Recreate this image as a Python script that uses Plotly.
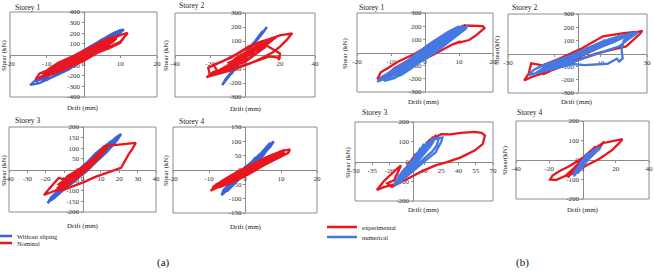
import plotly.graph_objects as go

# ---------------- data (drift mm, shear kN) ----------------
a1_without = [(0,0),(2,70),(-1,-50),(-3,-30),(4,110),(6,150),(3,30),(-2,-80),(-5,-130),(-6,-90),(2,70),(7,170),(8,140),(4,40),(-3,-100),(-8,-200),(-9,-160),(-4,-50),(3,100),(9,210),(10,190),(5,60),(-2,-80),(-10,-240),(-12,-230),(-6,-90),(1,60),(8,200),(10,230),(11,235),(9,170),(4,40),(-4,-140),(-12,-270),(-14.5,-287),(-13,-240),(-8,-130),(-2,-10),(5,140),(10,220),(8,150),(2,0),(-6,-170),(-11,-250),(-9,-180),(-3,-40),(3,90),(9,190),(6,100),(0,-40),(-7,-180),(-5,-90),(1,40),(7,160),(4,50),(-2,-70),(-4,-60),(0,10),(3,70),(1,-10),(-1,-30),(0,30),(-2,-20),(4,80),(-6,-120),(8,170),(-10,-210),(10,210),(-13,-260),(-11,-200),(-7,-120),(-3,-60),(1,20),(5,100),(9,180),(7,120),(3,40),(-1,-40),(-5,-110),(-9,-180)]
a1_nominal = [(0,0),(2,45),(-2,-50),(4,90),(-4,-90),(6,130),(-6,-130),(5,70),(0,-30),(-3,-30),(3,80),(7,150),(8,120),(2,-10),(-7,-160),(-9,-140),(-2,0),(5,120),(9,170),(12,205),(11,160),(10,110),(7,60),(4,20),(0,-50),(-5,-130),(-10,-200),(-13,-232),(-12,-180),(-10,-150),(-7,-80),(-3,-20),(2,60),(6,140),(10,185),(12,200),(10,120),(5,40),(0,-60),(-6,-150),(-11,-215),(-8,-120),(-4,-40),(1,40),(6,120),(9,150),(6,70),(1,-20),(-4,-110),(-8,-170),(-5,-70),(0,20),(4,100),(7,110),(3,20),(-2,-60),(-5,-90),(-1,0),(3,60),(1,10),(-1,-40),(2,20),(-1,-10),(1,20),(-3,-70),(3,50),(-7,-120),(7,130),(-9,-170),(9,160),(5,80),(0,-10),(-5,-100),(-11,-190),(-8,-150),(-3,-60),(3,40),(8,140)]

a2_without = [(0,0),(4,70),(-4,-60),(7,115),(-7,-110),(10,165),(-10,-160),(12.5,200),(11,170),(5,80),(-2,-30),(-9,-150),(-13,-215),(-11,-170),(-5,-80),(1,20),(6,100),(10,170),(8,130),(2,30),(-4,-70),(-8,-140),(-6,-95),(0,0),(5,90),(-3,-50),(3,40)]
a2_nominal = [(0,0),(5,40),(-5,-60),(8,70),(-8,-90),(12,90),(-12,-110),(15,110),(10,60),(0,-20),(-10,-100),(-18,-120),(-22,-160),(-15,-110),(-5,-40),(5,50),(15,120),(20,140),(27,155),(24,110),(20,60),(16,20),(10,-20),(3,-60),(-8,-110),(-20,-150),(-21,-90),(-12,-40),(0,40),(8,90),(18,130),(12,70),(20,10),(19,-35),(20,-20),(14,-10),(5,-50),(-5,-90),(-15,-130),(-18,-70),(-8,-20),(2,60),(10,100),(6,40),(-3,-30),(-10,-80),(-2,-20),(4,20),(-10,-60),(5,20),(12,60),(0,-50),(-12,-100),(-5,-20),(8,70),(3,-20),(-8,-80),(0,10),(6,50),(-4,-50)]

a3_without = [(0,0),(3,30),(-3,-30),(6,55),(-6,-55),(9,80),(-9,-80),(12,100),(-12,-100),(15,125),(18,150),(21,167),(19,140),(16,110),(13,80),(8,40),(2,-10),(-4,-50),(-10,-95),(-15,-125),(-19,-158),(-17,-130),(-13,-95),(-8,-50),(-2,0),(4,45),(10,95),(15,130),(17,140),(14,100),(9,55),(3,5),(-3,-45),(-9,-90),(-14,-115),(-11,-75),(-5,-25),(1,20),(7,75),(12,110),(10,75),(5,30),(-1,-20),(-7,-70),(-12,-110),(-16,-140),(-13,-105),(-6,-45),(0,10),(6,60),(11,100),(7,50),(1,0),(-4,-40),(-9,-75),(-5,-40),(0,5),(4,35),(-2,-15),(1,15),(-1,-20),(4,35),(-4,-45),(8,65),(-8,-75),(12,95),(-12,-105),(16,130),(-16,-135),(19,150),(14,105),(6,40),(-2,-25),(-10,-85),(-17,-145)]
a3_nominal = [(0,0),(3,25),(-3,-25),(6,45),(-6,-45),(9,65),(-9,-70),(12,90),(-12,-85),(14,110),(10,65),(4,10),(-3,-40),(-9,-75),(-15,-100),(-21,-120),(-17,-80),(-13,-40),(-8,-50),(-3,-20),(3,30),(8,70),(12,110),(20,117),(29,125),(27,95),(25,70),(21,8),(14,-12),(7,-35),(1,-58),(-5,-80),(-10,-95),(-14,-100),(-9,-55),(-4,-25),(2,20),(7,60),(11,95),(8,55),(2,0),(-4,-45),(-10,-85),(-13,-70),(-7,-30),(-1,5),(5,45),(10,80),(6,35),(0,-15),(-6,-55),(-11,-80),(-5,-25),(1,10),(5,40),(2,5),(-3,-30),(-2,-10),(2,10),(-6,-40),(6,40),(-10,-75),(10,75),(-14,-90),(12,95),(4,20),(-4,-35),(-12,-65),(-8,-30),(0,10),(8,60)]

a4_without = [(0,0),(1,15),(-1,-15),(2,30),(-2,-30),(3,45),(-3,-45),(4,55),(-4,-55),(5,70),(-5,-70),(6,80),(7,90),(8,100),(7,80),(5,55),(3,25),(1,0),(-2,-35),(-4,-60),(-6.5,-88),(-6,-70),(-4,-45),(-2,-20),(1,15),(3,40),(6,75),(7,85),(5,50),(2,10),(-1,-25),(-4,-55),(-6,-80),(-4,-40),(-1,-5),(2,30),(5,65),(3,30),(0,-10),(-3,-45),(-5,-60),(-2,-15),(1,20),(4,50),(2,20),(-1,-15),(0,10),(3,35),(-3,-40),(6,70),(-5,-75),(7,95),(4,45),(0,-15),(-5,-70)]
a4_nominal = [(0,0),(2,15),(-2,-20),(4,30),(-4,-35),(6,45),(-6,-50),(8,55),(-8,-60),(10,65),(7,35),(3,5),(-1,-20),(-5,-45),(-9.5,-72),(-8,-50),(-5,-30),(-1,-5),(3,25),(7,50),(10,65),(12.5,72),(12,60),(9,40),(5,15),(1,-15),(-3,-40),(-7,-60),(-9,-60),(-6,-35),(-2,-5),(2,20),(6,45),(9,60),(11,70),(8,40),(4,10),(0,-15),(-4,-40),(-7,-55),(-4,-25),(0,5),(4,30),(8,55),(5,25),(1,-5),(-3,-30),(-5,-40),(-1,-10),(2,10),(0,-5),(-1,-5),(3,20),(-3,-25),(6,40),(-7,-55),(9,55),(11,62),(6,30),(0,-10),(-6,-45),(-9,-65)]

b1_experimental = [(0,0),(4,70),(-4,-80),(8,140),(-8,-150),(10,170),(12,205),(17,200),(17.5,185),(15,130),(13,95),(10,75),(10.5,85),(8,60),(3,-10),(-4,-100),(-10,-170),(-14,-200),(-13,-150),(-11,-120),(-8,-70),(-3,-10),(3,80),(9,180),(12,210),(8,130),(2,20),(-6,-140),(-12,-195),(-9,-120),(-2,-20),(5,100),(0,0)]
b1_numerical = [(0,0),(2,40),(-2,-40),(4,80),(-4,-80),(6,110),(-6,-120),(8,140),(-8,-150),(10,170),(-10,-170),(12,200),(13,210),(11,170),(8,110),(5,50),(2,-10),(-2,-70),(-6,-130),(-10,-180),(-14,-222),(-13,-190),(-10,-140),(-6,-80),(-2,-20),(2,40),(6,110),(10,170),(12,195),(10,140),(6,70),(2,0),(-2,-60),(-7,-140),(-12,-205),(-11,-165),(-7,-100),(-3,-30),(1,30),(5,100),(9,160),(11,185),(8,120),(4,40),(0,-30),(-5,-110),(-9,-170),(-8,-120),(-4,-50),(0,10),(4,80),(8,150),(6,90),(2,20),(-2,-50),(-6,-110),(-3,-40),(1,20),(4,60),(2,40),(-1,-30),(0,0),(1,50),(-1,-50),(3,90),(-3,-90),(5,120),(-5,-130),(7,150),(-7,-160),(9,180),(-9,-180),(11,200),(12,180),(9,120),(6,60),(3,0),(0,-50),(-3,-100),(-6,-150),(-9,-195),(-12,-215),(-11,-170),(-8,-110),(-5,-60),(-2,0),(1,60),(4,110),(7,160),(10,200),(9,150),(6,90),(3,30),(0,-20),(-3,-70),(-6,-100),(-9,-140),(-12,-180),(-10,-200),(-7,-170),(-4,-120),(-1,-60),(2,10),(5,70),(8,130),(11,160)]

b2_experimental = [(0,0),(6,50),(-6,-70),(12,100),(-12,-120),(18,130),(-18,-150),(22,150),(28,172),(27,150),(21,54),(15,30),(8,0),(0,-50),(-10,-120),(-20,-180),(-23,-205),(-21,-150),(-20,-75),(-15,-90),(-8,-40),(2,40),(11,131),(20,155),(25,165),(15,90),(5,10),(-5,-80),(-15,-160),(-10,-110),(0,-20),(0,0)]
b2_numerical = [(0,0),(4,40),(-4,-50),(8,70),(-8,-80),(12,100),(-12,-110),(16,120),(-16,-135),(20,140),(25,160),(26,157),(22,110),(18,54),(14,30),(9,0),(4,-25),(-2,-60),(-8,-100),(-14,-130),(-21,-165),(-19,-125),(-15,-90),(-10,-60),(-5,-30),(1,10),(6,50),(12,90),(18,125),(24,150),(20,100),(19,30),(19.5,-36),(18,-62),(17,-40),(13,-78),(3,-88),(-2,-80),(-10,-115),(-18,-150),(-14,-100),(-8,-55),(-2,-10),(4,40),(10,85),(16,120),(12,70),(6,25),(0,-20),(-6,-60),(-12,-100),(-9,-60),(-3,-15),(3,30),(9,75),(14,105),(10,60),(4,15),(-2,-35),(-8,-75),(-4,-30),(2,15),(6,45),(1,5),(-3,-25),(0,0),(-2,-20),(3,25),(-6,-70),(9,60),(-11,-100),(15,110),(-17,-145),(21,130),(23,150),(16,90),(8,35),(0,-30),(-8,-90),(-15,-130),(-12,-80),(-4,-25),(5,45),(14,110),(20,140)]

b3_experimental = [(0,0),(5,40),(-5,-50),(10,80),(-10,-90),(15,110),(-15,-110),(20,130),(22,115),(16,112),(25,138),(33,137),(42,145),(54,150),(60,145),(63,132),(61,88),(54,55),(42,21),(30,-3),(20,-20),(8,-50),(-5,-90),(-15,-115),(-25,-130),(-31,-144),(-25,-100),(-15,-45),(-10,-20),(-16,-95),(-22,-110),(-18,-128),(-12,-110),(-5,-60),(5,20),(12,90),(18,125),(10,60),(0,-20),(-10,-80),(-4,-20),(3,40),(0,0)]
b3_numerical = [(0,0),(3,25),(-3,-30),(6,45),(-6,-55),(9,65),(-9,-75),(12,85),(-12,-95),(15,100),(18,112),(22,118),(26,122),(25,100),(20,46),(13,13),(7,-15),(2,-40),(-4,-70),(-10,-100),(-16,-120),(-14,-95),(-10,-65),(-5,-35),(0,-5),(5,30),(10,65),(15,95),(19,110),(16,80),(11,45),(6,10),(0,-30),(-6,-65),(-12,-100),(-9,-70),(-4,-35),(1,5),(6,40),(11,75),(14,95),(10,60),(5,20),(0,-15),(-5,-50),(-10,-85),(-6,-50),(-2,-20),(3,15),(8,55),(12,85),(8,45),(3,5),(-2,-30),(-7,-70),(-3,-30),(1,0),(5,30),(2,10),(-1,-15),(2,30),(-2,-40),(4,45),(-4,-60),(7,70),(-7,-80),(10,90),(-10,-105),(13,100),(-13,-115),(17,115),(23,120),(21,80),(17,50),(12,25),(7,0),(2,-25),(-3,-55),(-8,-85),(-14,-110),(-12,-75),(-8,-45),(-3,-15),(2,15),(7,50),(12,80),(17,100),(14,70),(9,35),(4,0),(-1,-35),(-6,-70),(-11,-100)]

b4_experimental = [(0,0),(4,30),(-4,-40),(8,60),(-8,-70),(12,85),(-9,-90),(13,95),(10,60),(2,-10),(-6,-70),(-10,-80),(-5,-40),(3,30),(12,86),(20,100),(24,107),(23,95),(18,52),(10,5),(4,-20),(-4,-58),(-16,-103),(-19.5,-100),(-18,-80),(-14,-58),(-8,-32),(0,10),(8,70),(4,30),(-3,-40),(-7,-70),(-2,-10),(6,50),(10,75),(5,25),(-1,-25),(-6,-60),(0,0)]
b4_numerical = [(0,0),(1,10),(-1,-15),(2,20),(-2,-25),(3,30),(-3,-40),(5,40),(-4,-55),(7,50),(-5,-70),(9,60),(11,65),(10,55),(8,40),(5,15),(2,-5),(-1,-30),(-3,-55),(-5,-83),(-5,-65),(-3,-40),(-1,-15),(2,10),(5,35),(8,55),(10,60),(7,35),(4,10),(1,-15),(-2,-40),(-4,-65),(-3,-45),(0,-15),(3,15),(6,40),(9,55),(6,25),(3,0),(0,-25),(-3,-50),(-1,-25),(2,5),(5,30),(3,15),(0,-10),(2,25),(-2,-40),(4,40),(-4,-70),(7,55),(-3,-70),(9,65),(4,20),(-1,-20),(-5,-78)]

# tick values
a1_xticks = [-20,-10,0,10,20];  a1_yticks = [-400,-300,-200,-100,0,100,200,300,400]
a2_xticks = [-40,-20,0,20,40];  a2_yticks = [-300,-200,-100,0,100,200,300]
a3_xticks = [-40,-30,-20,-10,0,10,20,30,40]; a3_yticks = [-200,-150,-100,-50,0,50,100,150,200]
a4_xticks = [-20,-10,0,10,20];  a4_yticks = [-150,-100,-50,0,50,100,150]
b1_xticks = [-20,-10,0,10,20];  b1_yticks = [-300,-200,-100,0,100,200,300]
b2_xticks = [-30,-10,10,30];    b2_yticks = [-300,-200,-100,0,100,200,300]
b3_xticks = [-50,-35,-20,-5,10,25,40,55,70]; b3_yticks = [-200,-100,0,100,200]
b4_xticks = [-40,-20,0,20,40];  b4_yticks = [-200,-100,0,100,200]

W, H = 654, 273
RED = '#e8161e'
BLUE_A = '#3b63d9'
BLUE_B = '#4478e2'
FONT = 'Liberation Serif'

panels = [
    dict(box=(10,157,12,97),  xr=(-20,20), yr=(-400,400), xt=a1_xticks, yt=a1_yticks, title='Storey 1', tpos=(13,7),
         ytitle='Shear (kN)', ypos=(4,55), xpos=(83,108), first=('Without sliping', a1_without, BLUE_A), second=('Nominal', a1_nominal, RED)),
    dict(box=(175,315,13,97), xr=(-40,40), yr=(-300,300), xt=a2_xticks, yt=a2_yticks, title='Storey 2', tpos=(177,5),
         ytitle='Shear (kN)', ypos=(166,55), xpos=(246,109), first=('Without sliping', a2_without, BLUE_A), second=('Nominal', a2_nominal, RED)),
    dict(box=(9,156,127,212), xr=(-40,40), yr=(-200,200), xt=a3_xticks, yt=a3_yticks, title='Storey 3', tpos=(13,120),
         ytitle='Shear (kN)', ypos=(4,170), xpos=(83,226), first=('Without sliping', a3_without, BLUE_A), second=('Nominal', a3_nominal, RED)),
    dict(box=(173,317,127,213), xr=(-20,20), yr=(-150,150), xt=a4_xticks, yt=a4_yticks, title='Storey 4', tpos=(177,121),
         ytitle='Shear (kN)', ypos=(166,170), xpos=(246,227), first=('Without sliping', a4_without, BLUE_A), second=('Nominal', a4_nominal, RED)),
    dict(box=(357,493,13,92), xr=(-20,20), yr=(-300,300), xt=b1_xticks, yt=b1_yticks, title='Storey 1', tpos=(357,7),
         ytitle='Shear (kN)', ypos=(345,53), xpos=(424,102), first=('experimental', b1_experimental, RED), second=('numerical', b1_numerical, BLUE_B)),
    dict(box=(508,647,14,93), xr=(-30,30), yr=(-300,300), xt=b2_xticks, yt=b2_yticks, title='Storey 2', tpos=(510,7),
         ytitle='Shear(kN)', ypos=(497,50), xpos=(577,102), first=('experimental', b2_experimental, RED), second=('numerical', b2_numerical, BLUE_B)),
    dict(box=(355,493,122,201), xr=(-50,70), yr=(-200,200), xt=b3_xticks, yt=b3_yticks, title='Storey 3', tpos=(360,113),
         ytitle='Shear (kN)', ypos=(348,162), xpos=(424,210), first=('experimental', b3_experimental, RED), second=('numerical', b3_numerical, BLUE_B)),
    dict(box=(516,649,121,199), xr=(-40,40), yr=(-200,200), xt=b4_xticks, yt=b4_yticks, title='Storey 4', tpos=(515,112),
         ytitle='Shear(kN)', ypos=(505,160), xpos=(583,210), first=('experimental', b4_experimental, RED), second=('numerical', b4_numerical, BLUE_B)),
]

legend_of = {'Without sliping': 'legend', 'Nominal': 'legend2', 'experimental': 'legend3', 'numerical': 'legend4'}

fig = go.Figure()
layout = {}
shapes = []
annotations = []
tickfont = dict(family=FONT, size=7, color='#333')
shown = set()

for i, p in enumerate(panels):
    n = i + 1
    sx = '' if n == 1 else str(n)
    x0, x1, y0, y1 = p['box']
    xd = [x0 / W, x1 / W]
    yd = [1 - y1 / H, 1 - y0 / H]
    xr, yr = p['xr'], p['yr']
    yzero = yd[0] + (0 - yr[0]) / (yr[1] - yr[0]) * (yd[1] - yd[0])
    xzero = xd[0] + (0 - xr[0]) / (xr[1] - xr[0]) * (xd[1] - xd[0])
    common = dict(showgrid=False, zeroline=False, showline=True, linecolor='#8c8c8c', linewidth=1,
                  ticks='outside', ticklen=2, tickcolor='#8c8c8c', tickfont=tickfont,
                  layer='below traces', fixedrange=True, anchor='free', tickmode='array')
    layout['xaxis' + sx] = dict(domain=xd, range=list(xr), position=yzero,
                                tickvals=p['xt'], ticktext=[str(v) for v in p['xt']], **common)
    layout['yaxis' + sx] = dict(domain=yd, range=list(yr), position=xzero,
                                tickvals=p['yt'], ticktext=[str(v) for v in p['yt']], **common)
    shapes.append(dict(type='rect', xref='x%s domain' % sx, yref='y%s domain' % sx, x0=0, x1=1, y0=0, y1=1,
                       line=dict(color='#8c8c8c', width=1), layer='below'))
    for name, pts, col in (p['first'], p['second']):
        show = name not in shown
        shown.add(name)
        fig.add_trace(go.Scatter(x=[q[0] for q in pts], y=[q[1] for q in pts], mode='lines', name=name,
                                 line=dict(color=col, width=2.3), xaxis='x' + sx, yaxis='y' + sx,
                                 showlegend=show, legend=legend_of[name], hoverinfo='skip'))
    tx, ty = p['tpos']
    annotations.append(dict(text=p['title'], x=tx / W, y=1 - ty / H, xref='paper', yref='paper',
                            xanchor='left', yanchor='middle', showarrow=False, font=dict(family=FONT, size=7.5, color='#222')))
    yx, yy = p['ypos']
    annotations.append(dict(text=p['ytitle'], x=yx / W, y=1 - yy / H, xref='paper', yref='paper', textangle=-90,
                            xanchor='center', yanchor='middle', showarrow=False, font=dict(family=FONT, size=7, color='#222')))
    xx, xy = p['xpos']
    annotations.append(dict(text='Drift (mm)', x=xx / W, y=1 - xy / H, xref='paper', yref='paper',
                            xanchor='center', yanchor='middle', showarrow=False, font=dict(family=FONT, size=7, color='#222')))

annotations.append(dict(text='(a)', x=163 / W, y=1 - 262 / H, xref='paper', yref='paper', showarrow=False,
                        xanchor='center', yanchor='middle', font=dict(family=FONT, size=11, color='#111')))
annotations.append(dict(text='(b)', x=522 / W, y=1 - 262 / H, xref='paper', yref='paper', showarrow=False,
                        xanchor='center', yanchor='middle', font=dict(family=FONT, size=11, color='#111')))

legfont = dict(family=FONT, size=6.5, color='#222')
def leg(xpx, ypx):
    return dict(x=xpx / W, y=1 - ypx / H, xanchor='left', yanchor='middle', bgcolor='rgba(0,0,0,0)',
                borderwidth=0, font=legfont, itemwidth=30, tracegroupgap=0)

layout['legend'] = leg(-23, 236)
layout['legend2'] = leg(-23, 243)
layout['legend3'] = leg(322, 227)
layout['legend4'] = leg(322, 237)

fig.update_layout(width=W, height=H, margin=dict(l=0, r=0, t=0, b=0, autoexpand=False),
                  paper_bgcolor='white', plot_bgcolor='white',
                  shapes=shapes, annotations=annotations, **layout)
fig.write_html('out.html')
